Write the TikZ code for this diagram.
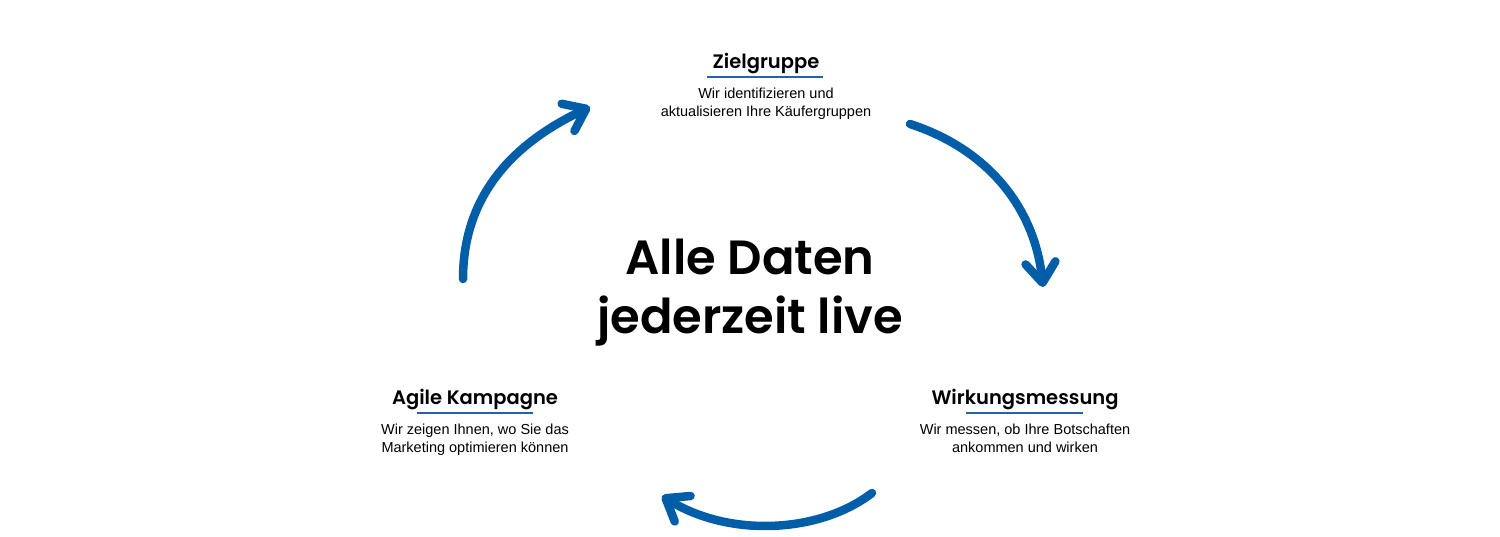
\documentclass[tikz,border=0pt]{standalone}
\usepackage{fontspec}
\setmainfont{Liberation Sans}
\newfontfamily\headfont{Poppins SemiBold}
\newfontfamily\subfont{Poppins Medium}
\usetikzlibrary{arrows.meta}
\definecolor{cblue}{RGB}{0,93,168}
\definecolor{ublue}{RGB}{30,100,180}
\tikzset{
  x=1pt,y=-1pt,
  cyclearrow/.style={draw=cblue,line width=8.5pt,line cap=round,
    -{Straight Barb[length=20pt,width=30pt,round]}},
  heading/.style={font=\headfont\fontsize{19.5}{22}\selectfont,inner sep=0pt,anchor=base},
  body/.style={font=\fontsize{14.5}{18}\selectfont,align=center,inner sep=0pt,anchor=north},
  uline/.style={draw=ublue,line width=2.5pt},
  centertext/.style={font=\headfont\fontsize{48}{59}\selectfont,align=center,inner sep=0pt}
}
\begin{document}
\begin{tikzpicture}
\useasboundingbox (0,0) rectangle (1500,536);
% top
\node[heading] (h1) at (766,68) {Zielgruppe};
\draw[uline] (707,77) coordinate (u1a) -- (823,77) coordinate (u1b);
\node[body] (b1) at (766,88) {Wir identifizieren und\\aktualisieren Ihre Käufergruppen};
% left
\node[heading] (h2) at (475,404) {Agile Kampagne};
\draw[uline] (417,413) coordinate (u2a) -- (533,413) coordinate (u2b);
\node[body] (b2) at (475,424) {Wir zeigen Ihnen, wo Sie das\\Marketing optimieren können};
% right
\node[heading] (h3) at (1025,404) {Wirkungsmessung};
\draw[uline] (966,413) coordinate (u3a) -- (1083,413) coordinate (u3b);
\node[body] (b3) at (1025,424) {Wir messen, ob Ihre Botschaften\\ankommen und wirken};
% center
\node[centertext] (c) at (750,293) {Alle Daten\\jederzeit live};
% arrows
\coordinate (a1s) at (463,279);
\coordinate (a1e) at (590,107);
\coordinate (a2s) at (910,124);
\coordinate (a2e) at (1043,287);
\coordinate (a3s) at (872,493);
\coordinate (a3e) at (662,496);
\draw[cyclearrow] (a1s) .. controls (463,190) and (520,140) .. (a1e);
\draw[cyclearrow] (a2s) .. controls (990,150) and (1035,210) .. (a2e);
\draw[cyclearrow] (a3s) .. controls (820,533) and (730,538) .. (a3e);
\end{tikzpicture}
\end{document}
